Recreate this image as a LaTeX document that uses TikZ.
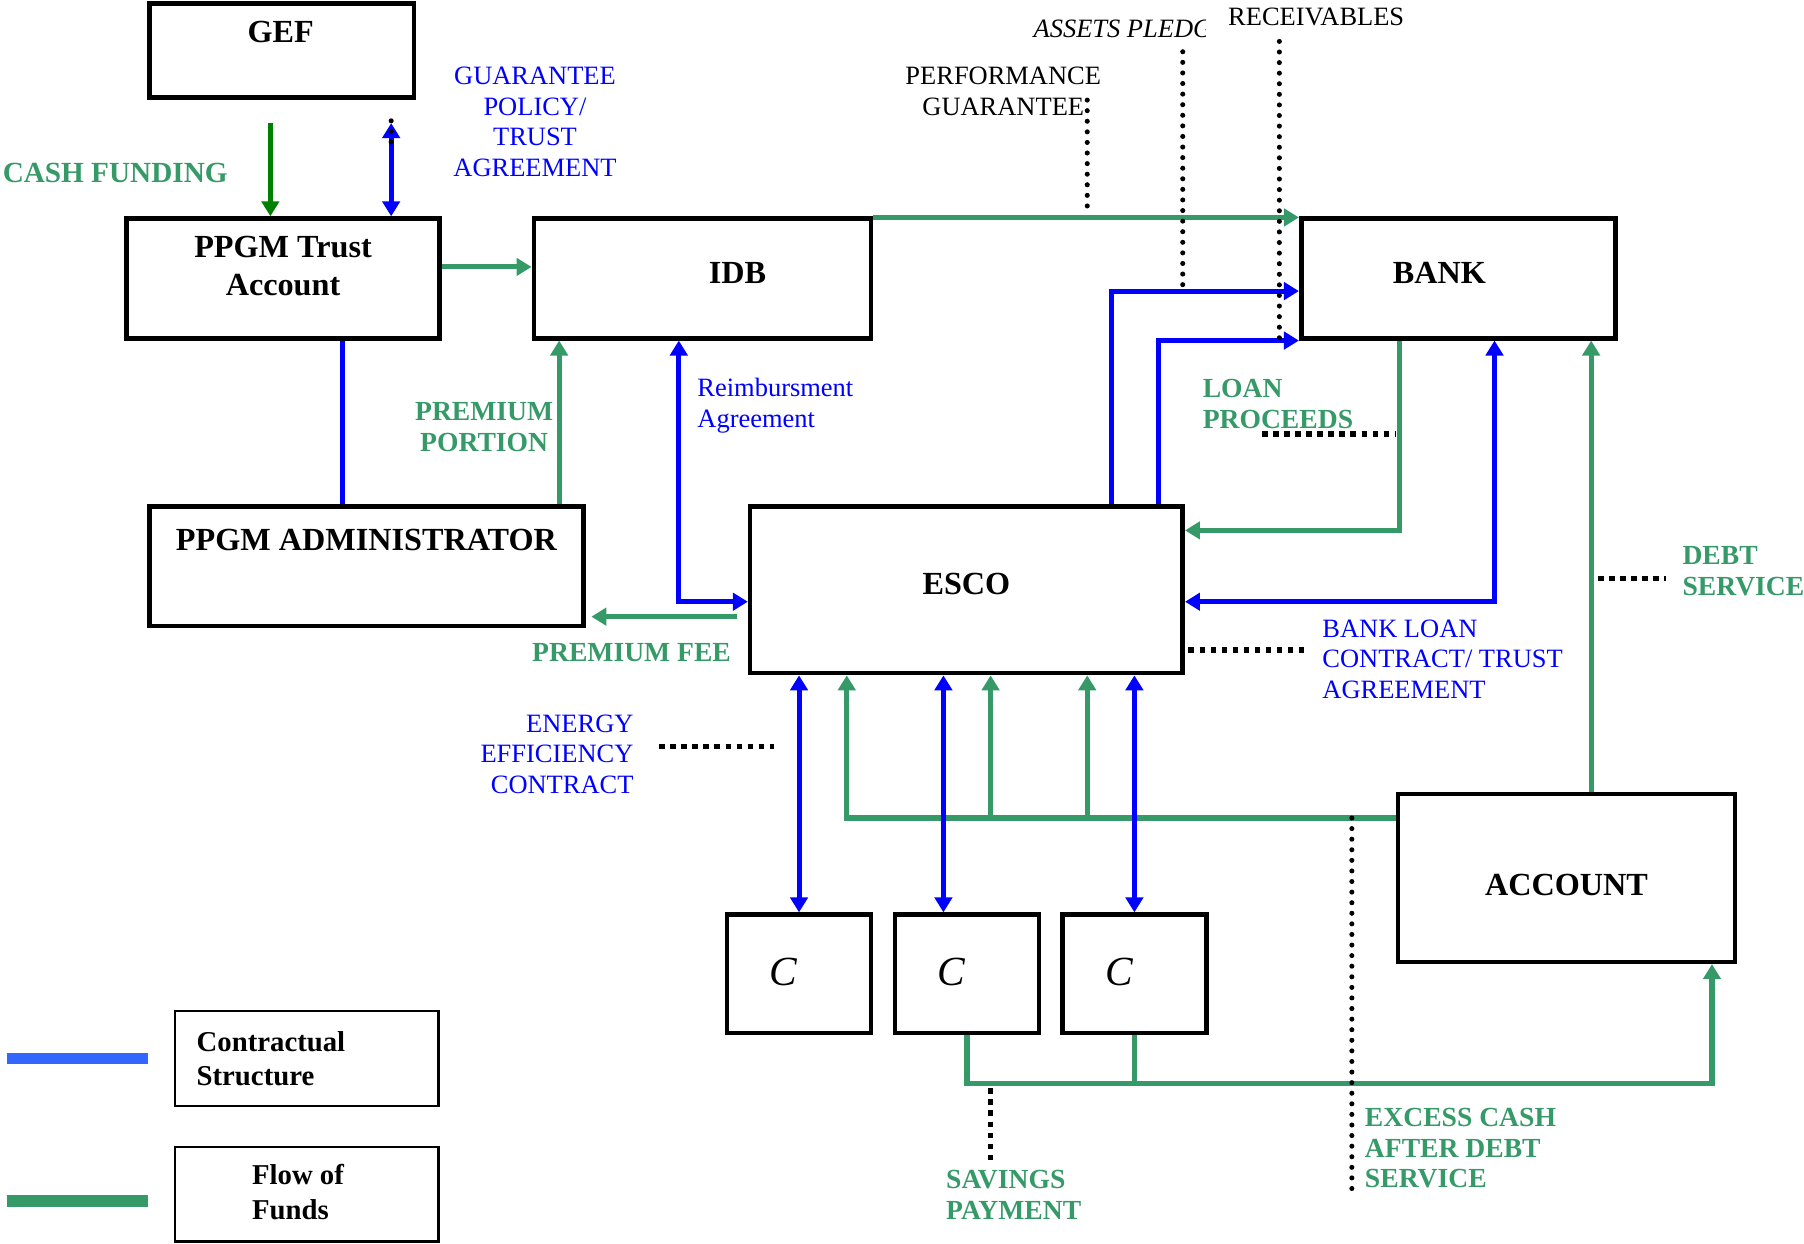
\documentclass[tikz,border=0pt]{standalone}
\usepackage{fontspec}
\setmainfont{Liberation Serif}
\usetikzlibrary{arrows.meta, positioning}
\definecolor{fundgreen}{RGB}{54,154,104}
\definecolor{cashgreen}{RGB}{0,128,0}
\definecolor{dealblue}{RGB}{0,0,255}
\definecolor{keyblue}{RGB}{51,102,255}

\begin{document}
\begin{tikzpicture}[
    x=0.5pt, y=-0.5pt,
    >={Triangle[length=6.5pt, width=7.5pt]},
    block/.style={rectangle, draw, line width=2pt, inner sep=0pt},
    keybox/.style={rectangle, draw, line width=1pt, inner sep=0pt,
                   minimum width=114.5pt, minimum height=41pt},
    boxtext/.style={font=\fontsize{14}{16.5}\selectfont\bfseries, align=center},
    keytext/.style={font=\fontsize{12.5}{15}\selectfont\bfseries, align=left},
    arr/.style={line width=2.2pt, draw=#1, ->},
    twoway/.style={line width=2.2pt, draw=#1, <->},
    wire/.style={line width=2.2pt, draw=#1},
    money/.style={font=\fontsize{12}{13.3}\selectfont\bfseries, text=fundgreen, inner sep=1pt},
    deal/.style={font=\fontsize{11.5}{13.3}\selectfont, text=dealblue, inner sep=1pt},
    note/.style={font=\fontsize{11.5}{13.3}\selectfont, inner sep=1pt},
    dotline/.style={line width=2.2pt, line cap=round, dash pattern=on 0pt off 4.6pt},
    squareline/.style={line width=2.4pt, dash pattern=on 2.4pt off 2.4pt},
]
    \useasboundingbox (0,0) rectangle (1568,1081);

    % boxes
    \node[block, minimum width=115pt, minimum height=41pt,
          label={[boxtext, xshift=-0.5pt, yshift=8pt]center:GEF}] (gef) at (245,44) {};
    \node[block, minimum width=136pt, minimum height=52pt,
          label={[boxtext, yshift=5.25pt]center:{PPGM Trust\\Account}}] (trust) at (246,242) {};
    \node[block, minimum width=146.5pt, minimum height=52pt,
          label={[boxtext, xshift=15.25pt, yshift=2.5pt]center:IDB}] (idb) at (610.5,242) {};
    \node[block, minimum width=136.5pt, minimum height=52pt,
          label={[boxtext, xshift=-8.25pt, yshift=2.5pt]center:BANK}] (bank) at (1267.5,242) {};
    \node[block, minimum width=188.5pt, minimum height=52pt,
          label={[boxtext, yshift=11.5pt]center:PPGM ADMINISTRATOR}] (admin) at (318.5,492) {};
    \node[block, minimum width=188pt, minimum height=72.5pt,
          label={[boxtext, yshift=2.25pt]center:ESCO}] (esco) at (840,512.5) {};
    \node[block, minimum width=146.5pt, minimum height=73pt,
          label={[boxtext, yshift=-3pt]center:ACCOUNT}] (account) at (1361.5,763) {};
    \foreach \name/\cx in {c1/694.5, c2/840.5, c3/986}
        \node[block, minimum width=62.5pt, minimum height=51.5pt,
              label={[font=\fontsize{18}{20}\selectfont\itshape, xshift=-6.75pt, yshift=1pt]center:C}]
              (\name) at (\cx,846.5) {};

    % legend
    \node[keybox, label={[keytext, xshift=-15.5pt]center:{Contractual\\Structure}}] (keyc) at (266.5,920) {};
    \node[keybox, label={[keytext, xshift=-3.75pt, yshift=1pt]center:{Flow of\\Funds}}] (keyf) at (266.5,1038) {};
    \draw[line width=5pt, keyblue] ([xshift=-11pt]keyc.west) -- ++(-123,0);
    \draw[line width=5pt, fundgreen] ([xshift=-11pt, yshift=-3pt]keyf.west) -- ++(-123,0);

    % flow of funds
    \coordinate (cashtop) at (235,107);
    \draw[arr=cashgreen] (cashtop) -- (cashtop |- trust.north);
    \draw[arr=fundgreen] ([yshift=5pt]trust.east) -- ([yshift=5pt]idb.west);
    \draw[arr=fundgreen] ([xshift=83.75pt]admin.north) -- ([xshift=83.75pt]admin.north |- idb.south)
        node[midway, left=0.5pt, yshift=-2pt, money, align=center] {PREMIUM\\PORTION};
    \draw[arr=fundgreen] ([xshift=-4.5pt, yshift=-11.75pt]esco.west)
        -- ([xshift=2.5pt, yshift=-11.75pt]esco.west -| admin.east)
        node[pos=0.725, below=9.5pt, money] {PREMIUM FEE};
    \draw[arr=fundgreen] ([yshift=-0.5pt]idb.north east) -- ([yshift=-0.5pt]bank.north west);
    \draw[arr=fundgreen] ([xshift=-25.75pt]bank.south) |- ([yshift=25.75pt]esco.east);
    \draw[arr=fundgreen] ([xshift=10.75pt]account.north) -- ([xshift=10.75pt]account.north |- bank.south);
    \coordinate (collect) at ([yshift=26pt]account.west);
    \draw[arr=fundgreen] (collect) -| ([xshift=-52pt]esco.south);
    \foreach \dx in {10.5pt, 52.5pt}
        \draw[arr=fundgreen] ([xshift=\dx]esco.south |- collect) -- ([xshift=\dx]esco.south);
    \coordinate (savings) at ([yshift=-21pt]c2.south);
    \draw[arr=fundgreen] (c2.south) -- (savings) -| ([xshift=63.25pt]account.south);
    \draw[wire=fundgreen] (c3.south) -- (c3.south |- savings);

    % contracts
    \coordinate (guartop) at (340,107);
    \draw[twoway=dealblue] (guartop) -- (guartop |- trust.north);
    \draw[wire=dealblue] ([xshift=26pt]trust.south) -- ([xshift=26pt]trust.south |- admin.north);
    \draw[twoway=dealblue] ([xshift=-10.25pt]idb.south) |- ([yshift=-5.25pt]esco.west)
        node[pos=0.125, right=6pt, deal, align=left] {Reimbursment\\Agreement};
    \coordinate (pledge) at ([yshift=-5.5pt]bank.west);
    \draw[arr=dealblue] ([xshift=63pt]esco.north) |- (pledge);
    \draw[arr=dealblue] ([xshift=83.5pt]esco.north) |- (bank.south west);
    \draw[twoway=dealblue] ([yshift=-5.25pt]esco.east) -| ([xshift=15.75pt]bank.south);
    \draw[twoway=dealblue] (c1.north |- esco.south) -- (c1.north);
    \draw[twoway=dealblue] ([xshift=-10.25pt]c2.north |- esco.south) -- ([xshift=-10.25pt]c2.north);
    \draw[twoway=dealblue] (c3.north |- esco.south) -- (c3.north);

    % labels
    \node[money, font=\fontsize{12.7}{13.3}\selectfont\bfseries, anchor=west] (cashlab) at (0,150) {CASH FUNDING};
    \node[deal, align=center] (guarlab) at (465,106) {GUARANTEE\\POLICY/\\TRUST\\AGREEMENT};
    \node[note, align=center] (perflab) at (872,79.5) {PERFORMANCE\\GUARANTEE};
    \begin{scope}
        \clip (880,0) rectangle (1048,60);
        \node[note, font=\fontsize{11.5}{13.3}\selectfont\itshape, anchor=west] (pledgelab) at (896,25) {ASSETS PLEDGED};
    \end{scope}
    \node[note] (reclab) at (1144,15) {RECEIVABLES};
    \node[money, anchor=west, align=left] (loanlab) at (1043,351) {LOAN\\PROCEEDS};
    \node[deal, anchor=west, align=left] (ctrlab) at (1147,573) {BANK LOAN\\CONTRACT/ TRUST\\AGREEMENT};
    \node[money, anchor=west, align=left] (debtlab) at (1460,496.5) {DEBT\\SERVICE};
    \node[deal, anchor=east, align=right] (eeclab) at (553,655.5) {ENERGY\\EFFICIENCY\\CONTRACT};
    \node[money, anchor=west, align=left] (excesslab) at (1184,998) {EXCESS CASH\\AFTER DEBT\\SERVICE};
    \node[money, anchor=west, align=left] (savlab) at (820,1038.5) {SAVINGS\\PAYMENT};

    % leaders
    \draw[dotline] ([yshift=1pt]guartop) -- ++(0,20);
    \coordinate (perfdot) at (945,87);
    \draw[dotline] (perfdot) -- (perfdot |- idb.north);
    \coordinate (assetdot) at (1028,45);
    \draw[dotline] (assetdot) -- (assetdot |- pledge);
    \coordinate (recdot) at (1112,36);
    \draw[dotline] (recdot) -- (recdot |- bank.south);
    \coordinate (excessdot) at (1175,711);
    \draw[dotline] (excessdot) -- (excessdot |- excesslab.south);
    \coordinate (loandot) at (1097,377);
    \draw[squareline] (loandot) -- ([xshift=-27pt]loandot -| bank.south);
    \coordinate (ctrdot) at (1033,565);
    \draw[squareline, shorten >=7pt] (ctrdot) -- (ctrdot -| ctrlab.west);
    \coordinate (debtdot) at (1389,503);
    \draw[squareline, shorten >=6pt] (debtdot) -- (debtdot -| debtlab.west);
    \coordinate (eecdot) at (673,649);
    \draw[squareline, shorten <=10pt] (eecdot -| eeclab.east) -- (eecdot);
    \coordinate (savdot) at (861,946);
    \draw[squareline, shorten >=3pt] (savdot) -- (savdot |- savlab.north);
\end{tikzpicture}
\end{document}
